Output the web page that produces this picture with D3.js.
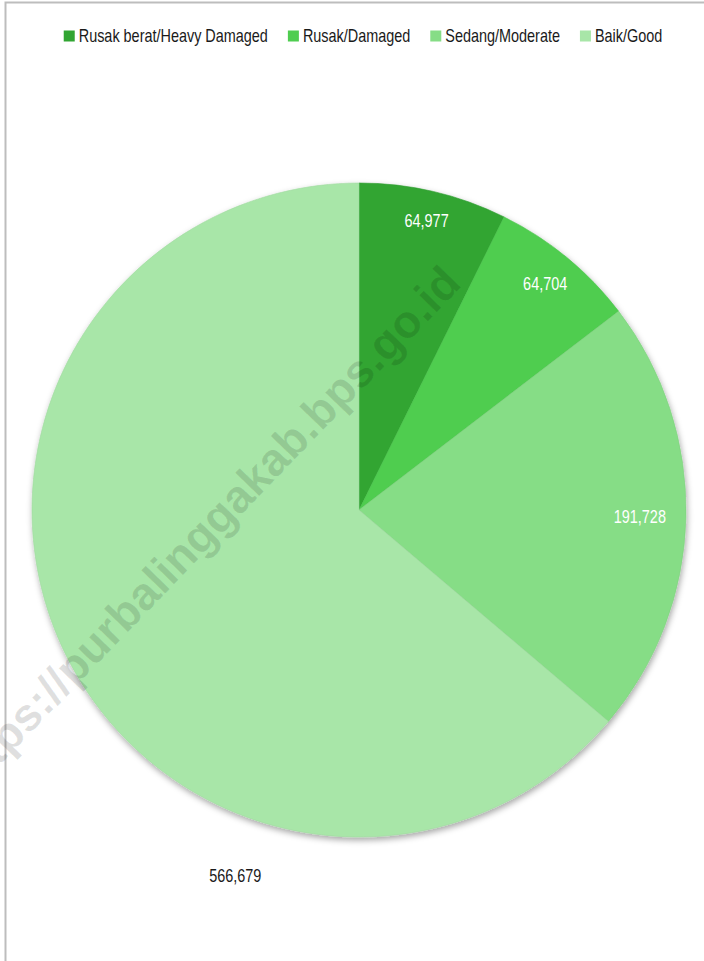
<!DOCTYPE html>
<html>
<head>
<meta charset="utf-8">
<script src="https://cdn.jsdelivr.net/npm/d3@7"></script>
<style>
  body { margin: 0; background: #fff; }
  svg { display: block; }
  text { font-family: "Liberation Sans", Arial, sans-serif; }
</style>
</head>
<body>
<svg id="chart"></svg>
<script>
const categories = ["Rusak berat/Heavy Damaged", "Rusak/Damaged", "Sedang/Moderate", "Baik/Good"];
const values = [64977, 64704, 191728, 566679];
const colors = ["#31a532", "#4fcd50", "#86dd86", "#a8e6a8"];

const width = 704, height = 961;
const cx = 359, cy = 510, radius = 327;
const fontSize = 18.5;
const narrow = 0.78;   // squeeze the sans into a condensed face

const svg = d3.select("#chart")
    .attr("width", width)
    .attr("height", height);

// frame around the chart area (runs off the right and bottom)
svg.append("rect")
    .attr("x", 5.5).attr("y", 2.5)
    .attr("width", width + 20).attr("height", height + 20)
    .attr("fill", "none")
    .attr("stroke", "#bdbdbd")
    .attr("stroke-width", 2);

const defs = svg.append("defs");
const shadow = defs.append("filter")
    .attr("id", "shadow")
    .attr("x", "-10%").attr("y", "-10%")
    .attr("width", "125%").attr("height", "125%");
shadow.append("feDropShadow")
    .attr("dx", 1).attr("dy", 3)
    .attr("stdDeviation", 3)
    .attr("flood-color", "#000")
    .attr("flood-opacity", 0.35);

const pie = d3.pie().sort(null).value(d => d);
const arcs = pie(values);
const arc = d3.arc().innerRadius(0).outerRadius(radius);

const g = svg.append("g").attr("transform", `translate(${cx},${cy})`);

g.append("g")
    .attr("filter", "url(#shadow)")
    .selectAll("path")
    .data(arcs)
    .join("path")
    .attr("d", arc)
    .attr("fill", (d, i) => colors[i])
    .attr("stroke", (d, i) => d3.color(colors[i]).darker(0.15))
    .attr("stroke-width", 0.6);

// data labels: inside ones hug the rim, the big slice sits outside (best fit)
const outsideLabel = {index: 3, angle: 198.7 * Math.PI / 180, dist: 386};
const rimMargin = 20;
const fmt = d3.format(",");

const labels = g.selectAll(".label")
    .data(arcs)
    .join("text")
    .attr("class", "label")
    .attr("text-anchor", "middle")
    .attr("dominant-baseline", "central")
    .style("font-size", fontSize + "px")
    .attr("fill", (d, i) => i === outsideLabel.index ? "#1a1a1a" : "#fff")
    .text(d => fmt(d.value));

labels.each(function (d, i) {
    const box = this.getBBox();
    const w = box.width * narrow, h = box.height;
    let a, dist;
    if (i === outsideLabel.index) {
        a = outsideLabel.angle;
        dist = outsideLabel.dist;
    } else {
        a = (d.startAngle + d.endAngle) / 2;
        const half = Math.max(Math.abs(Math.cos(a)) * h / 2, Math.abs(Math.sin(a)) * w / 2);
        dist = radius - rimMargin - half;
    }
    d3.select(this)
        .attr("transform", `translate(${Math.sin(a) * dist},${-Math.cos(a) * dist}) scale(${narrow},1)`);
});

// legend
const legend = svg.append("g");
const items = legend.selectAll("g")
    .data(categories)
    .join("g");
items.append("rect")
    .attr("width", 11).attr("height", 11)
    .attr("y", -5.5)
    .attr("fill", (d, i) => colors[i]);
items.append("text")
    .attr("transform", `translate(15,0) scale(${narrow},1)`)
    .attr("dominant-baseline", "central")
    .style("font-size", fontSize + "px")
    .attr("fill", "#1a1a1a")
    .text(d => d);

let xPos = 0;
items.each(function () {
    d3.select(this).attr("transform", `translate(${xPos},0)`);
    xPos += this.getBBox().width + 20;
});
const legendWidth = xPos - 20;
legend.attr("transform", `translate(${363 - legendWidth / 2},36)`);

// watermark
svg.append("text")
    .attr("transform", "translate(463,285) rotate(-46)")
    .attr("text-anchor", "end")
    .style("font-weight", "bold")
    .style("font-size", "46px")
    .attr("fill", "#000")
    .attr("fill-opacity", 0.12)
    .text("https://purbalinggakab.bps.go.id");
</script>
</body>
</html>
